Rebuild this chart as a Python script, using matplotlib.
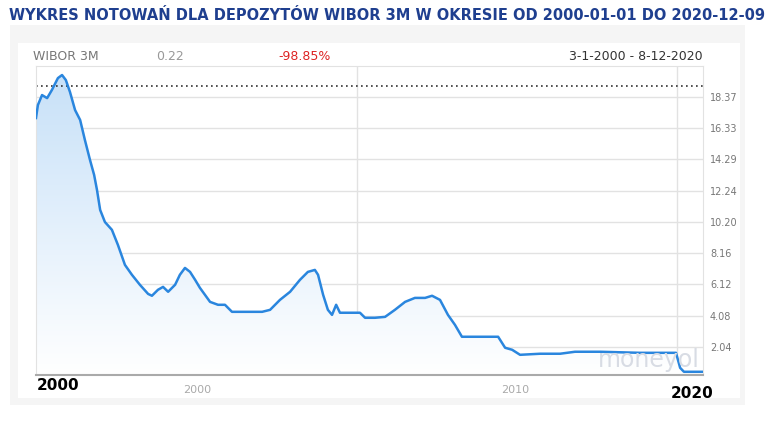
import matplotlib
matplotlib.use("Agg")
import matplotlib.pyplot as plt
import numpy as np
from matplotlib.patches import Polygon, Rectangle

# x: years since 2000-01-03 (approx.), y: WIBOR 3M (%)
t = [0, .06, .19, .35, .5, .69, .82, .94, 1.07, 1.23, 1.39, 1.54, 1.70, 1.83, 1.92, 2.02, 2.17, 2.39,
     2.58, 2.80, 3.02, 3.27, 3.53, 3.65, 3.84, 4.0, 4.16, 4.38, 4.53, 4.69, 4.85, 5.01, 5.16, 5.32, 5.48,
     5.73, 5.95, 6.17, 6.42, 6.74, 7.12, 7.37, 7.68, 8.0, 8.31, 8.56, 8.78, 8.88, 9.04, 9.19, 9.32, 9.45,
     9.57, 9.89, 10.2, 10.36, 10.67, 10.99, 11.3, 11.62, 11.93, 12.25, 12.47, 12.72, 12.97, 13.19, 13.41,
     13.98, 14.55, 14.77, 14.99, 15.24, 15.87, 16.5, 16.97, 17.76, 19.02, 20.15, 20.28, 20.4, 21.0]
wibor = [17.0, 17.85, 18.5, 18.3, 18.83, 19.61, 19.81, 19.48, 18.7, 17.52, 16.87, 15.56, 14.26, 13.28, 12.3,
         10.99, 10.2, 9.69, 8.7, 7.4, 6.75, 6.1, 5.5, 5.38, 5.77, 5.96, 5.64, 6.1, 6.75, 7.2, 6.94, 6.42, 5.9,
         5.44, 4.98, 4.79, 4.79, 4.33, 4.33, 4.33, 4.33, 4.46, 5.11, 5.64, 6.42, 6.94, 7.07, 6.75, 5.44, 4.46,
         4.13, 4.79, 4.27, 4.27, 4.27, 3.94, 3.94, 4.0, 4.46, 4.98, 5.24, 5.24, 5.38, 5.11, 4.13, 3.48, 2.7,
         2.7, 2.7, 1.98, 1.85, 1.52, 1.59, 1.59, 1.72, 1.72, 1.65, 1.65, 0.67, 0.41, 0.41]
yticks = [2.04, 4.08, 6.12, 8.16, 10.20, 12.24, 14.29, 16.33, 18.37]
ref_level = 19.1

fig = plt.figure(figsize=(7.67, 4.23), dpi=100)
fig.patch.set_facecolor("white")
fig.add_artist(Rectangle((10/767, 1-405/423), 735/767, 380/423, transform=fig.transFigure,
                         facecolor="#f5f5f5", edgecolor="none", zorder=-2))
fig.add_artist(Rectangle((18/767, 1-398/423), 722/767, 355/423, transform=fig.transFigure,
                         facecolor="white", edgecolor="none", zorder=-1))
fig.text(0.012, 1-16/423, "WYKRES NOTOWAŃ DLA DEPOZYTÓW WIBOR 3M W OKRESIE OD 2000-01-01 DO 2020-12-09",
         color="#1f3f8f", fontsize=10.5, fontweight="bold", va="center", family="DejaVu Sans")

ax = fig.add_axes([36/767, 1-375/423, 667/767, 309/423])
ax.set_xlim(0, 21)
ax.set_ylim(0.2, 20.4)
for y in yticks:
    ax.axhline(y, color="#e2e2e2", lw=1, zorder=0)
for x in [10.1, 20.18]:
    ax.axvline(x, color="#e2e2e2", lw=1, zorder=0)
ax.axhline(ref_level, color="#333333", lw=1.2, ls=(0, (1, 2)), zorder=1)

grad = np.linspace(1, 0, 256).reshape(-1, 1)
cmap = matplotlib.colors.LinearSegmentedColormap.from_list("g", ["#ffffff", "#c6e0f8"])
im = ax.imshow(grad, extent=[0, 21, 0.2, 20.4], aspect="auto", cmap=cmap, zorder=0.5,
               origin="upper", vmin=0, vmax=1)
poly = Polygon(list(zip(t, wibor)) + [(t[-1], 0.2), (t[0], 0.2)], closed=True, transform=ax.transData)
im.set_clip_path(poly)
ax.plot(t, wibor, color="#2a86de", lw=1.8, zorder=3)

for s in ["top", "left", "right"]:
    ax.spines[s].set_color("#e2e2e2")
ax.spines["bottom"].set_color("#aaaaaa")
ax.spines["bottom"].set_linewidth(1.5)
ax.set_xticks([])
ax.yaxis.tick_right()
ax.set_yticks(yticks)
ax.set_yticklabels([f"{v:.2f}" for v in yticks], fontsize=7, color="#777777")
ax.tick_params(axis="y", length=0, pad=5)

fig.text(33/767, 1-57/423, "WIBOR 3M", fontsize=9, color="#777777", va="center")
fig.text(156/767, 1-57/423, "0.22", fontsize=9, color="#999999", va="center")
fig.text(278/767, 1-57/423, "-98.85%", fontsize=9, color="#dd2222", va="center")
fig.text(703/767, 1-57/423, "3-1-2000 - 8-12-2020", fontsize=9, color="#333333", va="center", ha="right")
fig.text(197/767, 1-390/423, "2000", fontsize=8, color="#aaaaaa", va="center", ha="center")
fig.text(515/767, 1-390/423, "2010", fontsize=8, color="#aaaaaa", va="center", ha="center")
fig.text(37/767, 1-385/423, "2000", fontsize=11, color="black", fontweight="bold", va="center")
fig.text(713/767, 1-393/423, "2020", fontsize=11, color="black", fontweight="bold", va="center", ha="right")
fig.text(700/767, 1-360/423, "moneyol", fontsize=17, color="#d8dce4", va="center", ha="right", zorder=0)

fig.savefig("out.png", dpi=100)
